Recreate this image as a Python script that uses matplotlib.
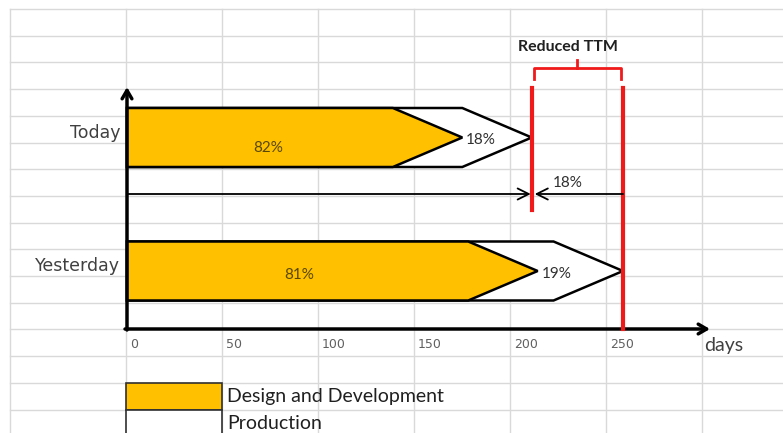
import numpy as np
import matplotlib.pyplot as plt
from matplotlib.patches import Polygon, Rectangle

# data
categories = ["Today", "Yesterday"]
total_days = [204, 250]          # end of production
design_days = [169, 207]         # end of design and development
design_pct = ["82%", "81%"]
production_pct = ["18%", "19%"]
reduction_pct = "18%"
tick_values = [0, 50, 100, 150, 200, 250]
legend_labels = ["Design and Development", "Production"]

GOLD = "#FFC000"
RED = "#F01A1A"
GRID = "#D9D9D9"
TEXT = "#404040"

W, H = 783, 433
fig = plt.figure(figsize=(W / 100, H / 100), dpi=100)

# spreadsheet background, in pixel units
sheet = fig.add_axes([0, 0, 1, 1])
sheet.set_xlim(0, W)
sheet.set_ylim(H, 0)
sheet.axis("off")
col_x = [10] + [126 + 96 * k for k in range(8)]
row_y = [9 + 26.7 * k for k in range(17)]
for x in col_x:
    sheet.plot([x, x], [row_y[0], H], color=GRID, lw=1, zorder=0)
for y in row_y:
    sheet.plot([col_x[0], W], [y, y], color=GRID, lw=1, zorder=0)

# tick labels sit in the cells under the axis
for k, v in enumerate(tick_values):
    sheet.text(col_x[k + 1] + 4, 345, str(v), fontsize=9, color="#606060",
               ha="left", va="center")
sheet.text(704, 346, "days", fontsize=14, color=TEXT, family="Lato",
           ha="left", va="center")

# legend cells
for k, (lab, fc) in enumerate(zip(legend_labels, [GOLD, "white"])):
    y0 = row_y[14] + 26.7 * k
    sheet.add_patch(Rectangle((col_x[1], y0), 96, 26.7, fc=fc, ec="#303030",
                              lw=1.2, zorder=2))
    sheet.text(col_x[2] + 5, y0 + 14, lab, fontsize=14, color="#202020",
               family="Lato", ha="left", va="center")

# chart, x in days, y in pixel rows
ax = fig.add_axes([0, 0, 1, 1])
ax.patch.set_alpha(0)
px_per_day = 1.984
x0 = 127
ax.set_xlim(-x0 / px_per_day, (W - x0) / px_per_day)
ax.set_ylim(H, 0)
ax.axis("off")

bar_y = [137.5, 271]
label_dy = [10, 4]
half = 29.5
point = 35
axis_y = 329

def chevron(end, yc, fc, z):
    pts = [(0, yc - half), (end - point, yc - half), (end, yc),
           (end - point, yc + half), (0, yc + half)]
    ax.add_patch(Polygon(pts, closed=True, fc=fc, ec="black", lw=1.8,
                         joinstyle="miter", zorder=z))

for i, cat in enumerate(categories):
    yc = bar_y[i]
    chevron(total_days[i], yc, "white", 3)
    chevron(design_days[i], yc, GOLD, 4)
    ax.text(design_days[i] * 0.42, yc + label_dy[i], design_pct[i],
            fontsize=11, color="#5a4800", family="Lato", ha="center",
            va="center", zorder=6)
    ax.text(design_days[i] + 2, yc + 3, production_pct[i], fontsize=11,
            color="#303030", family="Lato", ha="left", va="center", zorder=6)
    ax.text(-3.5, yc - 5, cat, fontsize=12.5, color=TEXT, ha="right",
            va="center")

# axes arrows
arrow = dict(arrowstyle="->,head_length=0.6,head_width=0.35", lw=2.5,
             color="black", shrinkA=0, shrinkB=0)
ax.annotate("", xy=(0, 87), xytext=(0, axis_y + 1), arrowprops=arrow, zorder=7)
ax.annotate("", xy=((710 - x0) / px_per_day, axis_y), xytext=(-1, axis_y),
            arrowprops=arrow, zorder=7)

# red limit lines and brace
t_new, t_old = total_days
ax.plot([t_new, t_new], [88, 210], color=RED, lw=3, zorder=8)
ax.plot([t_old, t_old], [88, axis_y], color=RED, lw=3, zorder=8)
mid = (t_new + t_old) / 2
ax.plot([t_new + 1, t_new + 1, t_old - 1, t_old - 1], [79, 68, 68, 79],
        color=RED, lw=2, zorder=8)
ax.plot([mid, mid], [68, 60], color=RED, lw=2, zorder=8)
ax.text(mid - 5, 47, "Reduced TTM", fontsize=11.5, fontweight="bold",
        color="#202020", family="Lato", ha="center", va="center")

# time reduction double arrow
thin = dict(arrowstyle="->,head_length=0.8,head_width=0.4", lw=1.3,
            color="black", shrinkA=0, shrinkB=0)
ax.annotate("", xy=(t_new - 0.5, 194), xytext=(0, 194), arrowprops=thin,
            zorder=9)
ax.annotate("", xy=(t_new + 1.5, 194), xytext=(t_old, 194), arrowprops=thin,
            zorder=9)
ax.text(mid - 5, 183, reduction_pct, fontsize=11, color="#303030",
        family="Lato", ha="center", va="center")

fig.savefig("out.png", dpi=100)
